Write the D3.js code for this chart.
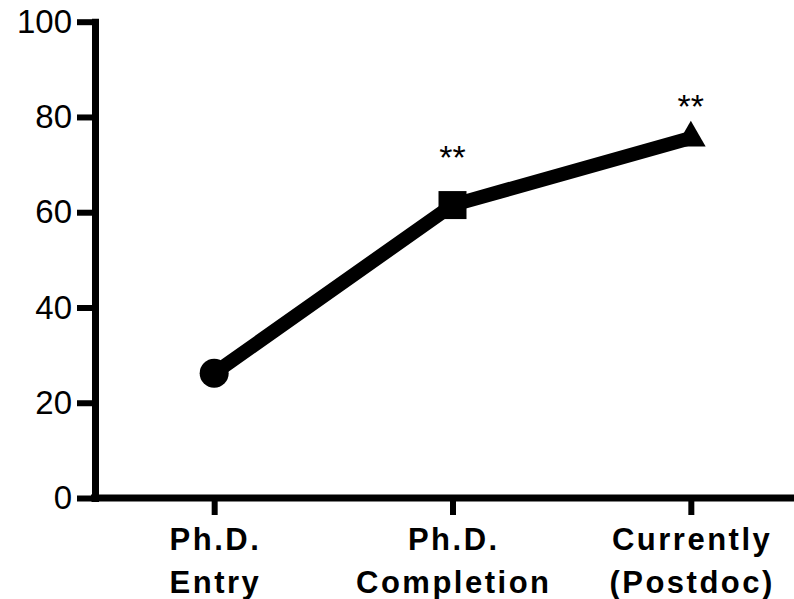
<!DOCTYPE html>
<head>
    <title>Ph.D. line chart</title>
    <script src='https://d3js.org/d3.v7.min.js'></script>
</head>
<style>
body {
  margin: 0;
  background: #fff;
  font-family: 'Liberation Sans', Arial, Helvetica, sans-serif;
}
</style>
<body>
    <svg></svg>
</body>

<script>
    // data
    var categories = ['Ph.D. Entry', 'Ph.D. Completion', 'Currently (Postdoc)'];
    var labelLines = [['Ph.D.', 'Entry'], ['Ph.D.', 'Completion'], ['Currently', '(Postdoc)']];
    var values = [26.2, 61.5, 75.6];
    var markers = ['circle', 'square', 'triangle'];
    var stars = ['', '**', '**'];
    var starLevel = [0, 73, 83.8];   // where the ** sits, in y units
    var yTicks = [0, 20, 40, 60, 80, 100];

    var vWidth = 794, vHeight = 599;
    var svg = d3.select('svg').attr('width', vWidth).attr('height', vHeight);

    var x = d3.scalePoint().domain(categories).range([95, 810]).padding(0.5);
    var y = d3.scaleLinear().domain([0, 100]).range([498, 21.7]);

    // y axis
    var gy = svg.append('g')
        .attr('transform', 'translate(95,0)')
        .call(d3.axisLeft(y).tickValues(yTicks).tickSize(18).tickSizeOuter(0).tickPadding(5));
    gy.select('.domain').attr('stroke-width', 7).attr('stroke-linecap', 'square');
    gy.selectAll('.tick line').attr('stroke-width', 6);
    gy.selectAll('.tick text')
        .style('font-size', '33px')
        .style('font-family', "'Liberation Sans', Arial, sans-serif")
        .attr('fill', '#000');

    // x axis
    var gx = svg.append('g')
        .attr('transform', 'translate(0,498)')
        .call(d3.axisBottom(x).tickSize(17).tickSizeOuter(0).tickFormat(''));
    gx.select('.domain').attr('stroke-width', 7).attr('d', 'M91,0H' + vWidth);
    gx.selectAll('.tick line').attr('stroke-width', 6);

    // two line labels under x ticks
    var lbl = svg.append('g').selectAll('text').data(categories).enter().append('text')
        .attr('text-anchor', 'middle')
        .attr('transform', function(d) { return 'translate(' + (x(d) + 1.3) + ',0)'; })
        .style('font-size', '31px')
        .style('font-weight', 'bold')
        .style('letter-spacing', '2.5px');
    lbl.selectAll('tspan').data(function(d, i) { return labelLines[i]; }).enter().append('tspan')
        .attr('x', 0)
        .attr('y', function(d, i) { return 550 + i * 43; })
        .text(function(d) { return d; });

    // connecting line
    var line = d3.line()
        .x(function(d, i) { return x(categories[i]); })
        .y(function(d) { return y(d); });
    svg.append('path').datum(values)
        .attr('d', line)
        .attr('fill', 'none')
        .attr('stroke', '#000')
        .attr('stroke-width', 14);

    // markers
    var symType = { circle: d3.symbolCircle, square: d3.symbolSquare, triangle: d3.symbolTriangle };
    var symSize = { circle: Math.PI * 14.5 * 14.5, square: 28 * 28, triangle: 380 };
    svg.append('g').selectAll('path').data(values).enter().append('path')
        .attr('transform', function(d, i) { return 'translate(' + x(categories[i]) + ',' + y(d) + ')'; })
        .attr('d', function(d, i) { return d3.symbol().type(symType[markers[i]]).size(symSize[markers[i]])(); })
        .attr('fill', '#000');

    // significance stars
    svg.append('g').selectAll('text').data(categories).enter().append('text')
        .attr('x', function(d) { return x(d); })
        .attr('y', function(d, i) { return y(starLevel[i]); })
        .attr('dy', '0.55em')
        .attr('text-anchor', 'middle')
        .style('font-size', '34px')
        .text(function(d, i) { return stars[i]; });
</script>
